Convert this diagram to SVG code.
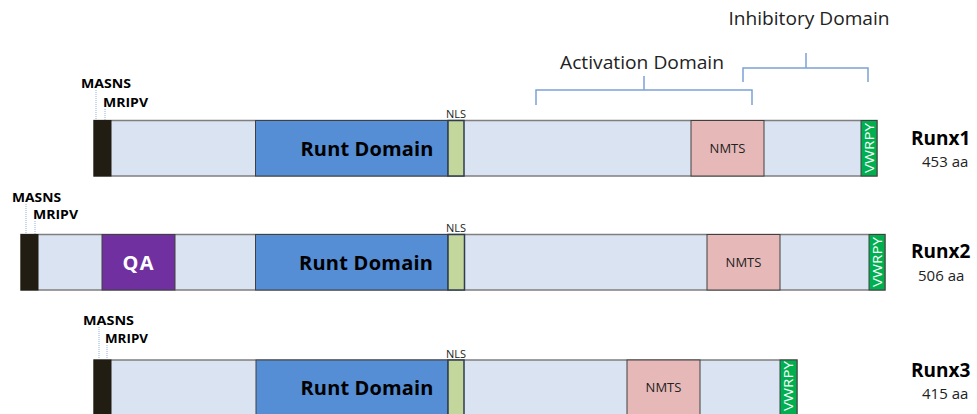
<svg xmlns="http://www.w3.org/2000/svg" width="977" height="414" viewBox="0 0 977 414">
<style>
.bar{fill:#dae3f1;stroke:#7f7f7f;stroke-width:1.5}
.blk{fill:#211d12;stroke:#211d12}
.runt{fill:#558ed5;stroke:#404040;stroke-width:1}
.nls{fill:#c3d69b;stroke:#2f3b4f;stroke-width:1.5}
.nmts{fill:#e6b9b8;stroke:#404040;stroke-width:1}
.qa{fill:#7030a0;stroke:#404040;stroke-width:1}
.vw{fill:#00b050;stroke:#404040;stroke-width:1}
.t{font-family:"Open Sans","Liberation Sans",sans-serif;fill:#000}
.rd{font-size:20px;font-weight:bold}
.sm{font-size:12.5px;font-weight:bold}
.nl{font-size:11px;fill:#222}
.nm{font-size:13px;fill:#222}
.vt{font-size:13px;fill:#fff}
.nameL{font-size:19px;font-weight:bold}
.aa{font-size:15px;fill:#222}
.dom{font-size:17.5px;fill:#222}
.br{fill:none;stroke:#7ea1d6;stroke-width:1.5}
.dot{stroke:#8fb0dc;stroke-width:1;stroke-dasharray:1,1}
</style>
<rect width="977" height="414" fill="#fff"/>
<g id="connectors">
<path class="br" d="M536,105 V90 H752 V105 M644,90 V76"/>
<path class="br" d="M743,82 V68 H868 V82 M806,68 V53"/>
<line class="dot" x1="96" y1="90" x2="96" y2="120"/>
<line class="dot" x1="105" y1="109" x2="105" y2="120"/>
<line class="dot" x1="26" y1="204" x2="26" y2="234"/>
<line class="dot" x1="35" y1="221" x2="35" y2="234"/>
<line class="dot" x1="99" y1="327" x2="99" y2="359"/>
<line class="dot" x1="107" y1="345" x2="107" y2="359"/>
</g>
<g id="labels-domains">
<text class="t dom" x="642" y="69" text-anchor="middle" textLength="164" lengthAdjust="spacingAndGlyphs">Activation Domain</text>
<text class="t dom" x="809" y="25" text-anchor="middle" textLength="161" lengthAdjust="spacingAndGlyphs">Inhibitory Domain</text>
</g>
<g id="runx1">
<rect class="bar" x="94" y="120.5" width="783" height="55.5"/>
<rect class="blk" x="94" y="120.5" width="17" height="55.5"/>
<rect class="runt" x="255.5" y="120.5" width="192.5" height="55.5"/>
<rect class="nls" x="448" y="120.5" width="16" height="55.5"/>
<rect class="nmts" x="691" y="120.5" width="73" height="55.5"/>
<rect class="vw" x="861" y="120.5" width="16" height="55.5"/>
<text class="t rd" x="367" y="156" text-anchor="middle" textLength="133">Runt Domain</text>
<text class="t nm" x="727.5" y="153" text-anchor="middle">NMTS</text>
<text class="t vt" transform="translate(873.5,148) rotate(-90)" text-anchor="middle" textLength="50" lengthAdjust="spacingAndGlyphs">VWRPY</text>
<text class="t nl" x="456" y="118" text-anchor="middle">NLS</text>
<text class="t sm" x="81" y="88" textLength="50" lengthAdjust="spacingAndGlyphs">MASNS</text>
<text class="t sm" x="103" y="107" textLength="45" lengthAdjust="spacingAndGlyphs">MRIPV</text>
<text class="t nameL" x="911" y="145">Runx1</text>
<text class="t aa" x="922" y="167">453 aa</text>
</g>
<g id="runx2">
<rect class="bar" x="21" y="234.5" width="864" height="55.5"/>
<rect class="blk" x="21" y="234.5" width="17" height="55.5"/>
<rect class="qa" x="102" y="234.5" width="73" height="55.5"/>
<rect class="runt" x="255.5" y="234.5" width="192.5" height="55.5"/>
<rect class="nls" x="448" y="234.5" width="16.5" height="55.5"/>
<rect class="nmts" x="707" y="234.5" width="73" height="55.5"/>
<rect class="vw" x="869" y="234.5" width="16" height="55.5"/>
<text class="t rd" x="138" y="270" text-anchor="middle" style="fill:#fff" textLength="31">QA</text>
<text class="t rd" x="366" y="270" text-anchor="middle" textLength="134">Runt Domain</text>
<text class="t nm" x="743.5" y="267" text-anchor="middle">NMTS</text>
<text class="t vt" transform="translate(881.5,262) rotate(-90)" text-anchor="middle" textLength="50" lengthAdjust="spacingAndGlyphs">VWRPY</text>
<text class="t nl" x="456" y="232" text-anchor="middle">NLS</text>
<text class="t sm" x="12" y="202" textLength="49" lengthAdjust="spacingAndGlyphs">MASNS</text>
<text class="t sm" x="33" y="219" textLength="45" lengthAdjust="spacingAndGlyphs">MRIPV</text>
<text class="t nameL" x="911" y="258">Runx2</text>
<text class="t aa" x="918" y="281">506 aa</text>
</g>
<g id="runx3">
<rect class="bar" x="94" y="360" width="703" height="60"/>
<rect class="blk" x="94" y="360" width="17" height="60"/>
<rect class="runt" x="256" y="360" width="192" height="60"/>
<rect class="nls" x="448" y="360" width="16" height="60"/>
<rect class="nmts" x="627" y="360" width="73" height="60"/>
<rect class="vw" x="780" y="360" width="17" height="60"/>
<text class="t rd" x="367" y="395" text-anchor="middle" textLength="133">Runt Domain</text>
<text class="t nm" x="663.5" y="392" text-anchor="middle">NMTS</text>
<text class="t vt" transform="translate(792.5,386) rotate(-90)" text-anchor="middle" textLength="50" lengthAdjust="spacingAndGlyphs">VWRPY</text>
<text class="t nl" x="456" y="358" text-anchor="middle">NLS</text>
<text class="t sm" x="83" y="325" textLength="51" lengthAdjust="spacingAndGlyphs">MASNS</text>
<text class="t sm" x="105" y="343" textLength="43" lengthAdjust="spacingAndGlyphs">MRIPV</text>
<text class="t nameL" x="911" y="377">Runx3</text>
<text class="t aa" x="922" y="399">415 aa</text>
</g>
</svg>
